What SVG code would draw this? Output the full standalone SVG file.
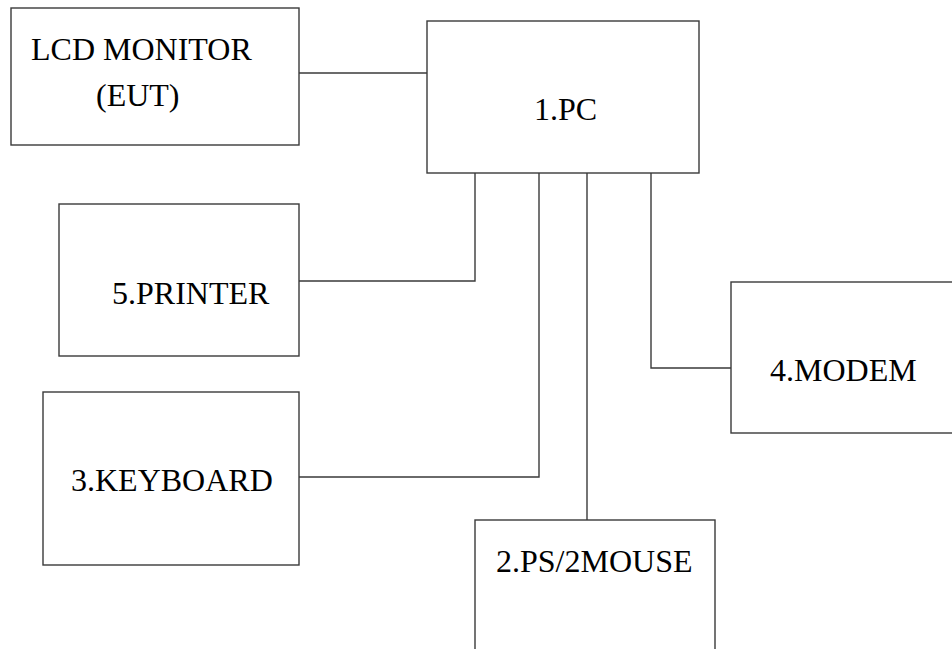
<svg xmlns="http://www.w3.org/2000/svg" width="952" height="649" viewBox="0 0 952 649">
<style>
.box{fill:#fff;stroke:#3a3a3a;stroke-width:1.4}
.conn{fill:none;stroke:#3a3a3a;stroke-width:1.4}
text{font-family:"Liberation Serif","Times New Roman",serif;font-size:32px;fill:#000}
</style>
<rect width="952" height="649" fill="#fff"/>
<g id="connectors">
<path class="conn" d="M299 73H427"/>
<path class="conn" d="M475 173V281H299"/>
<path class="conn" d="M539 173V477H299"/>
<path class="conn" d="M587 173V520"/>
<path class="conn" d="M651 173V368H731"/>
</g>
<g id="lcd">
<rect class="box" x="11" y="8" width="288" height="137"/>
<text x="31" y="60">LCD MONITOR</text>
<text x="96" y="106">(EUT)</text>
</g>
<g id="pc">
<rect class="box" x="427" y="21" width="272" height="152"/>
<text x="534" y="120">1.PC</text>
</g>
<g id="printer">
<rect class="box" x="59" y="204" width="240" height="152"/>
<text x="112" y="304">5.PRINTER</text>
</g>
<g id="keyboard">
<rect class="box" x="43" y="392" width="256" height="173"/>
<text x="71" y="491">3.KEYBOARD</text>
</g>
<g id="modem">
<rect class="box" x="731" y="282" width="240" height="151"/>
<text x="770" y="381">4.MODEM</text>
</g>
<g id="mouse">
<rect class="box" x="475" y="520" width="240" height="150"/>
<text x="496" y="572">2.PS/2MOUSE</text>
</g>
</svg>
